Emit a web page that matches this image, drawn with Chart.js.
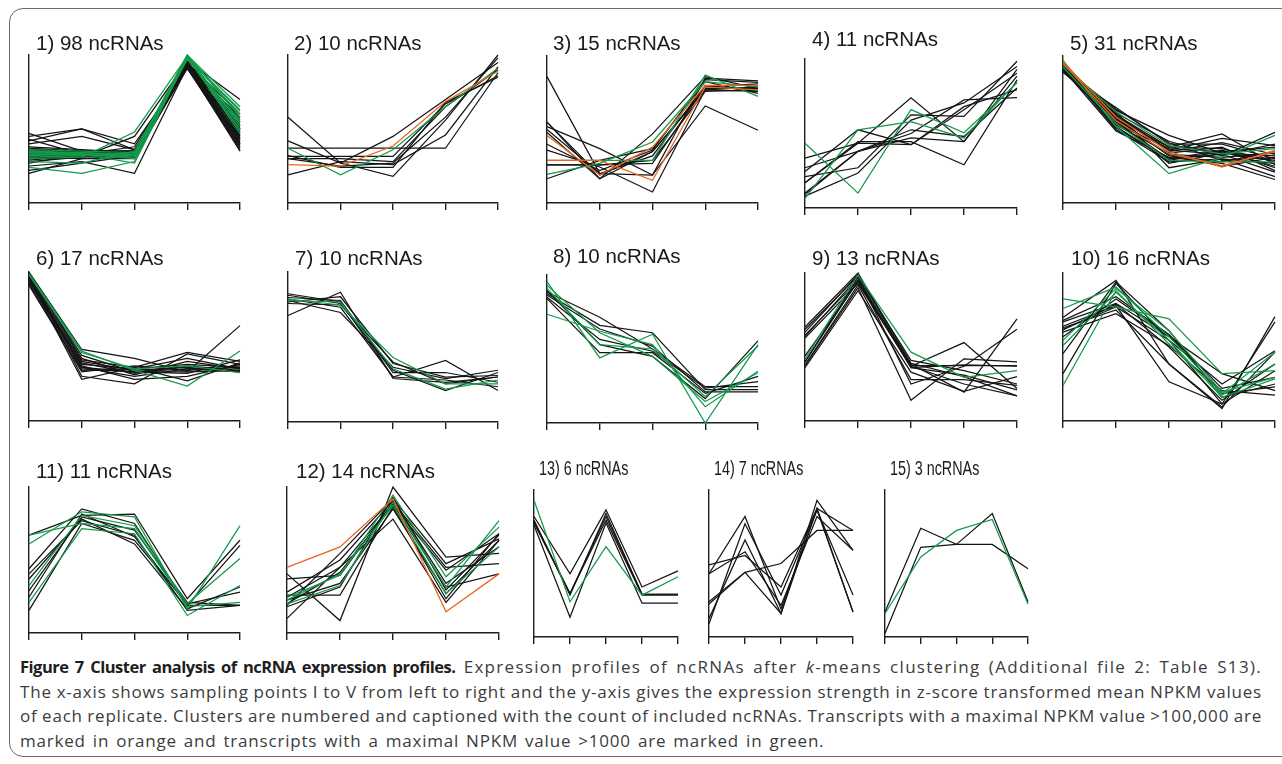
<!DOCTYPE html>
<html>
<head>
<meta charset="utf-8">
<title>ncRNA expression clusters</title>
<script src="https://cdn.jsdelivr.net/npm/chart.js@4.4.1/dist/chart.umd.min.js"></script>
<style>
    body {
        margin: 0;
        background: #fff;
        width: 1282px;
        height: 764px;
        overflow: hidden;
        position: relative;
    }
    #frame {
        position: absolute;
        left: 9px;
        top: 8px;
        width: 1300px;
        height: 749px;
        border: 1.5px solid #6b6b6b;
        border-radius: 14px;
        box-sizing: border-box;
    }
    canvas.panel {
        position: absolute;
    }
    #caption {
        position: absolute;
        left: 20px;
        top: 655px;
        font-family: 'Open Sans', sans-serif;
        font-size: 17px;
        letter-spacing: 0.8px;
        line-height: 24.6px;
        color: #3c3c3c;
        white-space: nowrap;
    }
    #caption div {
        width: 1242px;
    }
    #caption .just {
        text-align: justify;
        text-align-last: justify;
        white-space: normal;
    }
    #caption .tight {
        word-spacing: -1px;
    }
    #caption .wide {
        letter-spacing: 1.3px;
    }
    #caption b {
        color: #1e1e1e;
        font-size: 16.5px;
        letter-spacing: -0.5px;
        word-spacing: 0;
    }
</style>
</head>
<body>
<div id="frame"></div>
<div id="caption">
    <div class="just wide"><b>Figure 7 Cluster analysis of ncRNA expression profiles.</b> Expression profiles of ncRNAs after <i>k</i>-means clustering (Additional file 2: Table S13).</div>
    <div class="just tight">The x-axis shows sampling points I to V from left to right and the y-axis gives the expression strength in z-score transformed mean NPKM values</div>
    <div class="just tight">of each replicate. Clusters are numbered and captioned with the count of included ncRNAs. Transcripts with a maximal NPKM value &gt;100,000 are</div>
    <div style="word-spacing: 1.8px;">marked in orange and transcripts with a maximal NPKM value &gt;1000 are marked in green.</div>
</div>
<script>
// Sampling points on the x-axis
const stages = ['I', 'II', 'III', 'IV', 'V'];

// Number of ncRNAs in each k-means cluster
const clusterCounts = [98, 10, 15, 11, 31, 17, 10, 10, 13, 16, 11, 14, 6, 7, 3];

// Profiles: [NPKM class, I, II, III, IV, V]
// class: 'n' = normal, 'g' = max NPKM > 1000, 'o' = max NPKM > 100,000
const cluster1 = [
    ['n', 38, 36, 34, 92, 50], ['n', 45, 50, 40, 91, 45], ['n', 42, 50, 36, 92, 40],
    ['n', 47, 35, 35, 93, 55], ['n', 30, 32, 33, 95, 60], ['n', 25, 28, 20, 92, 35],
    ['n', 35, 33, 33, 94, 48], ['n', 32, 34, 33, 93, 44], ['n', 20, 30, 32, 92, 42],
    ['n', 36, 34, 34, 95, 52], ['n', 28, 31, 45, 96, 70], ['n', 33, 33, 38, 94, 40],
    ['n', 40, 45, 36, 93, 58], ['n', 22, 27, 32, 92, 38], ['n', 34, 35, 35, 96, 46],
    ['n', 31, 30, 30, 93, 50], ['n', 36, 35, 35, 94, 43], ['n', 29, 32, 31, 91, 37],
    ['n', 33, 33, 33, 93, 47], ['n', 34, 34, 34, 92, 41], ['n', 32, 32, 32, 94, 53],
    ['n', 35, 34, 35, 91, 39], ['n', 31, 33, 34, 95, 57], ['n', 37, 35, 33, 93, 45],
    ['n', 30, 31, 33, 92, 49], ['n', 33, 34, 31, 94, 36], ['n', 43, 33, 34, 92, 51],
    ['n', 27, 33, 34, 93, 43],
    ['g', 35, 34, 33, 100, 65], ['g', 33, 32, 32, 99, 60], ['g', 24, 20, 28, 98, 55],
    ['g', 30, 31, 48, 99, 62], ['g', 34, 33, 27, 98, 50], ['g', 36, 35, 34, 100, 58],
    ['g', 28, 27, 35, 99, 52], ['g', 32, 33, 31, 97, 56], ['g', 34, 34, 32, 99, 47],
    ['g', 33, 33, 33, 99, 54], ['g', 31, 32, 33, 98, 63], ['g', 35, 33, 30, 99, 49]
];
const cluster2 = [
    ['n', 58, 27, 18, 56, 100], ['n', 42, 27, 45, 70, 95], ['n', 37, 37, 37, 37, 88],
    ['n', 19, 28, 26, 46, 92], ['n', 30, 30, 28, 65, 90], ['n', 31.5, 31.5, 31.5, 67, 86],
    ['n', 30, 25, 27, 58, 98], ['n', 32, 24, 24, 68, 85],
    ['g', 37, 19, 36, 65, 91],
    ['o', 26, 25, 38.5, 68.5, 89]
];
const cluster3 = [
    ['n', 86, 20, 19, 85, 83], ['n', 55, 16.5, 35, 77, 79], ['n', 52, 37, 19, 66, 49.5],
    ['n', 48, 16.5, 47, 86, 78], ['n', 36, 24.5, 7.5, 77, 76], ['n', 26, 26, 29, 76, 77],
    ['n', 16.5, 29, 37, 82.5, 74.5], ['n', 55, 19, 35, 78, 78], ['n', 50, 20, 32, 80, 76],
    ['n', 26, 26, 27, 79, 81], ['n', 40, 22, 36, 84, 82],
    ['o', 46, 19, 38, 80, 80], ['o', 29, 29, 15.5, 79, 77],
    ['g', 29, 29, 29, 87, 72.5], ['g', 19.5, 27, 41.5, 82.5, 79]
];
const cluster4 = [
    ['n', 33.5, 43.5, 74, 44.5, 93], ['n', 24.5, 52.5, 42.5, 68, 79.5], ['n', 21, 27, 62.5, 61.5, 98.5],
    ['n', 17, 44.5, 44.5, 29, 86], ['n', 10, 38, 50, 72.5, 74], ['n', 8, 23.5, 59, 70.5, 95],
    ['n', 9, 38, 47, 44.5, 88.5], ['n', 17, 43.5, 42.5, 66, 90.5], ['n', 27, 38, 52.5, 48, 80.5],
    ['g', 43.5, 10, 66, 50.5, 84], ['g', 6.5, 52.5, 58, 47, 84.5]
];
const cluster5 = [
    ['n', 92, 63, 46, 34, 32], ['n', 90, 57, 38, 47, 26], ['n', 95, 55, 30, 36, 24],
    ['n', 93, 50, 28, 30, 18], ['n', 91, 60, 36, 33, 40], ['n', 89, 65, 40, 40, 30],
    ['n', 94, 58, 32, 28, 35], ['n', 92, 53, 34, 38, 22], ['n', 90, 61, 42, 32, 48],
    ['n', 96, 56, 27, 34, 29], ['n', 91, 49, 31, 27, 16], ['n', 93, 59, 35, 41, 33],
    ['n', 92, 62, 24, 30, 27], ['n', 90, 54, 37, 35, 38], ['n', 94, 57, 33, 25, 31],
    ['n', 93, 60, 38, 37, 28], ['n', 91, 56, 33, 31, 34], ['n', 95, 52, 29, 35, 25],
    ['n', 92, 64, 41, 29, 31], ['n', 89, 59, 36, 44, 39], ['n', 94, 51, 30, 33, 21],
    ['g', 97, 52, 20, 31, 46], ['g', 94, 62, 39, 33.5, 37], ['g', 92.5, 54, 29, 28, 28],
    ['o', 96, 58.5, 35, 24.5, 36], ['o', 95, 56, 33.5, 25.5, 35]
];
const cluster6 = [
    ['n', 100, 48, 42, 33, 64], ['n', 98, 30, 25, 45, 38], ['n', 96, 28, 36, 46, 40],
    ['n', 95, 35, 33, 33, 34], ['n', 93, 38, 35, 38, 36], ['n', 99, 42, 31, 40, 35],
    ['n', 97, 36, 30, 35, 37], ['n', 94, 40, 34, 36, 33], ['n', 91, 33, 37, 34, 36],
    ['n', 98, 44, 33, 32, 41], ['n', 95, 37, 28, 30, 38], ['n', 96, 39, 32, 37, 34],
    ['n', 92, 34, 35, 42, 35], ['n', 97, 41, 36, 27, 39], ['n', 99, 36, 33, 35, 33],
    ['g', 99, 47, 34, 23.5, 47], ['g', 98, 46, 35, 37, 32.5]
];
const cluster7 = [
    ['n', 71, 86.5, 29, 26.5, 30], ['n', 85.5, 80, 30, 41, 21], ['n', 83, 81, 33, 33, 26.5],
    ['n', 81, 73, 36.5, 29, 34.5], ['n', 79, 78, 40, 25.5, 30], ['n', 84.5, 79, 34.5, 21, 33],
    ['n', 82, 76.5, 30, 28, 23.5], ['n', 80, 83.5, 39, 30, 31],
    ['g', 82, 78, 43, 25.5, 25.5], ['g', 81, 80, 35.5, 22, 28]
];
const cluster8 = [
    ['n', 88.5, 71.5, 50, 24.5, 24.5], ['n', 87.5, 66, 61, 22.5, 22.5], ['n', 84, 47.5, 47.5, 20, 31.5],
    ['n', 89.5, 53, 45, 16.5, 55.5], ['n', 86.5, 63.5, 52, 21, 21], ['n', 85, 56.5, 48.5, 23.5, 28],
    ['g', 95.5, 44, 60, 0, 53], ['g', 73.5, 62, 53, 11, 35], ['g', 93, 61, 45, 14.5, 34],
    ['g', 91, 53, 50, 18, 52]
];
const cluster9 = [
    ['n', 63.5, 100, 39, 30, 17], ['n', 58, 95, 38.5, 19.5, 69], ['n', 56, 93, 37, 53, 22],
    ['n', 37.5, 90, 14, 42, 40], ['n', 40, 97, 25, 37, 62], ['n', 38, 92, 28, 28, 24],
    ['n', 60, 99, 37.5, 37.5, 37.5], ['n', 44, 94, 36, 38, 37], ['n', 62, 98, 41, 34, 25],
    ['n', 36, 88, 33, 20, 30], ['n', 40, 95, 37, 25, 17], ['n', 57, 97, 36, 31, 21],
    ['g', 42, 98.5, 46.5, 29.5, 34]
];
const cluster10 = [
    ['n', 70, 95, 38.5, 8.5, 70.5], ['n', 67, 79.5, 57, 32, 20.5], ['n', 64, 78, 26.5, 11.5, 67],
    ['n', 62, 77, 54.5, 25, 47.5], ['n', 60, 72.5, 51, 20.5, 17.5], ['n', 45.5, 94, 61, 16, 25],
    ['n', 32, 93, 54.5, 11.5, 34], ['n', 63, 75, 38.5, 9.5, 46.5], ['n', 68, 84, 58.5, 22, 29.5],
    ['n', 61.5, 79, 50, 14, 38.5], ['n', 57, 82.5, 58, 18.5, 23],
    ['g', 82.5, 77, 69, 32, 34], ['g', 76, 90.5, 57, 18.5, 46.5], ['g', 54.5, 89.5, 61, 19.5, 29.5],
    ['g', 51, 87, 54.5, 16, 28.5], ['g', 24, 88, 52, 17.5, 38.5]
];
const cluster11 = [
    ['n', 67, 80.5, 81.5, 23.5, 63.5], ['n', 44, 85, 75, 19, 60], ['n', 37, 78, 61, 16.5, 31.5],
    ['n', 24.5, 81.5, 66, 19, 19], ['n', 15.5, 75, 63.5, 20, 28], ['n', 29, 79.5, 70.5, 21, 19],
    ['n', 40.5, 77, 67, 15.5, 19],
    ['g', 61, 83, 79.5, 16.5, 73.5], ['g', 32.5, 80.5, 73.5, 20, 51], ['g', 21, 71.5, 68, 12, 32.5],
    ['g', 67, 75, 71.5, 18, 21]
];
const cluster12 = [
    ['n', 40.5, 8.5, 100, 52, 54.5], ['n', 10, 45, 78, 21, 63.5], ['n', 37, 39.5, 89.5, 45, 47.5],
    ['n', 26, 26, 86.5, 23.5, 68], ['n', 19, 54.5, 92, 47.5, 64.5], ['n', 24.5, 45, 88.5, 31.5, 40.5],
    ['n', 22.5, 34, 85, 27, 63.5], ['n', 20, 41.5, 87.5, 43, 68], ['n', 28, 50, 90.5, 34, 59],
    ['n', 18, 31.5, 93, 29.5, 67],
    ['g', 20, 32.5, 89.5, 31.5, 77], ['g', 24.5, 39.5, 94.5, 38.5, 72.5], ['g', 22.5, 40.5, 87.5, 27, 59],
    ['o', 45, 59, 92, 14.5, 40.5]
];
const cluster13 = [
    ['n', 82, 43, 86.5, 34, 45], ['n', 78.5, 29.5, 82, 29, 29], ['n', 76, 13.5, 77.5, 23, 23],
    ['n', 79.5, 28.5, 84, 29, 29], ['n', 77.5, 29.5, 79.5, 28.5, 28.5],
    ['g', 93, 24, 61.5, 28.5, 41]
];
const cluster14 = [
    ['n', 49, 55.5, 34, 87.5, 72.5], ['n', 43, 82, 19, 86.5, 28.5], ['n', 24, 44, 50, 72.5, 72.5],
    ['n', 12.5, 66, 16, 93, 59], ['n', 9, 77, 28.5, 86.5, 17], ['n', 43, 58, 21.5, 82, 59],
    ['n', 22.5, 44, 16, 87.5, 17]
];
const cluster15 = [
    ['n', 17, 74, 63, 84, 24], ['n', 2.5, 61, 63, 63, 46.5],
    ['g', 16, 54.5, 72.5, 80, 22.5]
];

const clusters = [cluster1, cluster2, cluster3, cluster4, cluster5, cluster6, cluster7, cluster8,
    cluster9, cluster10, cluster11, cluster12, cluster13, cluster14, cluster15];

// Line colour and stacking per NPKM class (lower order is drawn on top)
const classColor = { n: '#151515', g: '#139a4b', o: '#e9661e' };
const classOrder = { n: 2, g: 1, o: 0 };

// Panel placement on the page: [axis left, axis right, axis top, axis bottom, label x, label baseline, label squeeze]
const panelBoxes = [
    [29, 240, 55, 203, 36, 50, 1],
    [288, 498, 55, 203, 294, 50, 1],
    [547, 758, 56, 203, 553, 50, 1],
    [805, 1017, 59, 208, 812, 46, 1],
    [1063, 1275, 56, 203, 1070, 50, 1],
    [29, 240, 272, 421, 36, 265, 1],
    [288, 498, 272, 422, 295, 265, 1],
    [547, 758, 275, 423, 553, 263, 1],
    [805, 1017, 273, 421, 812, 265, 1],
    [1063, 1275, 273, 421, 1071, 265, 1],
    [29, 240, 487, 633, 36, 478, 1],
    [287, 499, 487, 633, 296, 478, 1],
    [534, 678, 490, 637, 539, 475, 0.7],
    [709, 853, 490, 637, 714, 475, 0.7],
    [885, 1028, 490, 637, 890, 475, 0.7]
];

// Draws the "n) N ncRNAs" label above each panel
const clusterLabel = {
    id: 'clusterLabel',
    afterDraw(chart, args, opts) {
        const { ctx, chartArea } = chart;
        ctx.save();
        ctx.font = '20.5px "Liberation Sans", Arial, sans-serif';
        ctx.fillStyle = '#1b1b1b';
        ctx.textBaseline = 'alphabetic';
        ctx.translate(chartArea.left + opts.dx, chartArea.top + opts.dy);
        ctx.scale(opts.squeeze, 1);
        ctx.fillText(opts.text, 0, 0);
        ctx.restore();
    }
};

const axisColor = '#1e1e1e';
const pad = 12;

clusters.forEach((rows, i) => {
    const [left, right, top, bottom, labelX, labelY, squeeze] = panelBoxes[i];
    const canvasLeft = left - pad;
    const canvasTop = labelY - 26;
    const w = right - left + 2 * pad;
    const h = bottom + pad - canvasTop;

    const canvas = document.createElement('canvas');
    canvas.className = 'panel';
    canvas.width = w;
    canvas.height = h;
    canvas.style.left = canvasLeft + 'px';
    canvas.style.top = canvasTop + 'px';
    canvas.style.width = w + 'px';
    canvas.style.height = h + 'px';
    document.body.appendChild(canvas);

    const datasets = rows.map(row => ({
        data: row.slice(1),
        borderColor: classColor[row[0]],
        borderWidth: 1.25,
        order: classOrder[row[0]],
        pointRadius: 0,
        tension: 0,
        fill: false,
        clip: 6
    }));

    new Chart(canvas, {
        type: 'line',
        data: { labels: stages, datasets: datasets },
        plugins: [clusterLabel],
        options: {
            responsive: false,
            animation: false,
            events: [],
            layout: {
                padding: { left: pad, right: pad, top: top - canvasTop, bottom: pad - 7 }
            },
            plugins: {
                legend: { display: false },
                tooltip: { enabled: false },
                title: { display: false },
                clusterLabel: {
                    text: (i + 1) + ') ' + clusterCounts[i] + ' ncRNAs',
                    dx: labelX - left,
                    dy: labelY - top,
                    squeeze: squeeze
                }
            },
            scales: {
                x: {
                    offset: false,
                    ticks: { display: false },
                    grid: {
                        display: true,
                        drawOnChartArea: false,
                        drawTicks: true,
                        tickLength: 7,
                        color: axisColor,
                        lineWidth: 1.4
                    },
                    border: { display: true, color: axisColor, width: 1.4 }
                },
                y: {
                    min: 0,
                    max: 100,
                    ticks: { display: false },
                    grid: { display: false, drawTicks: false, tickLength: 0 },
                    border: { display: true, color: axisColor, width: 1.4 }
                }
            }
        }
    });
});
</script>
</body>
</html>
